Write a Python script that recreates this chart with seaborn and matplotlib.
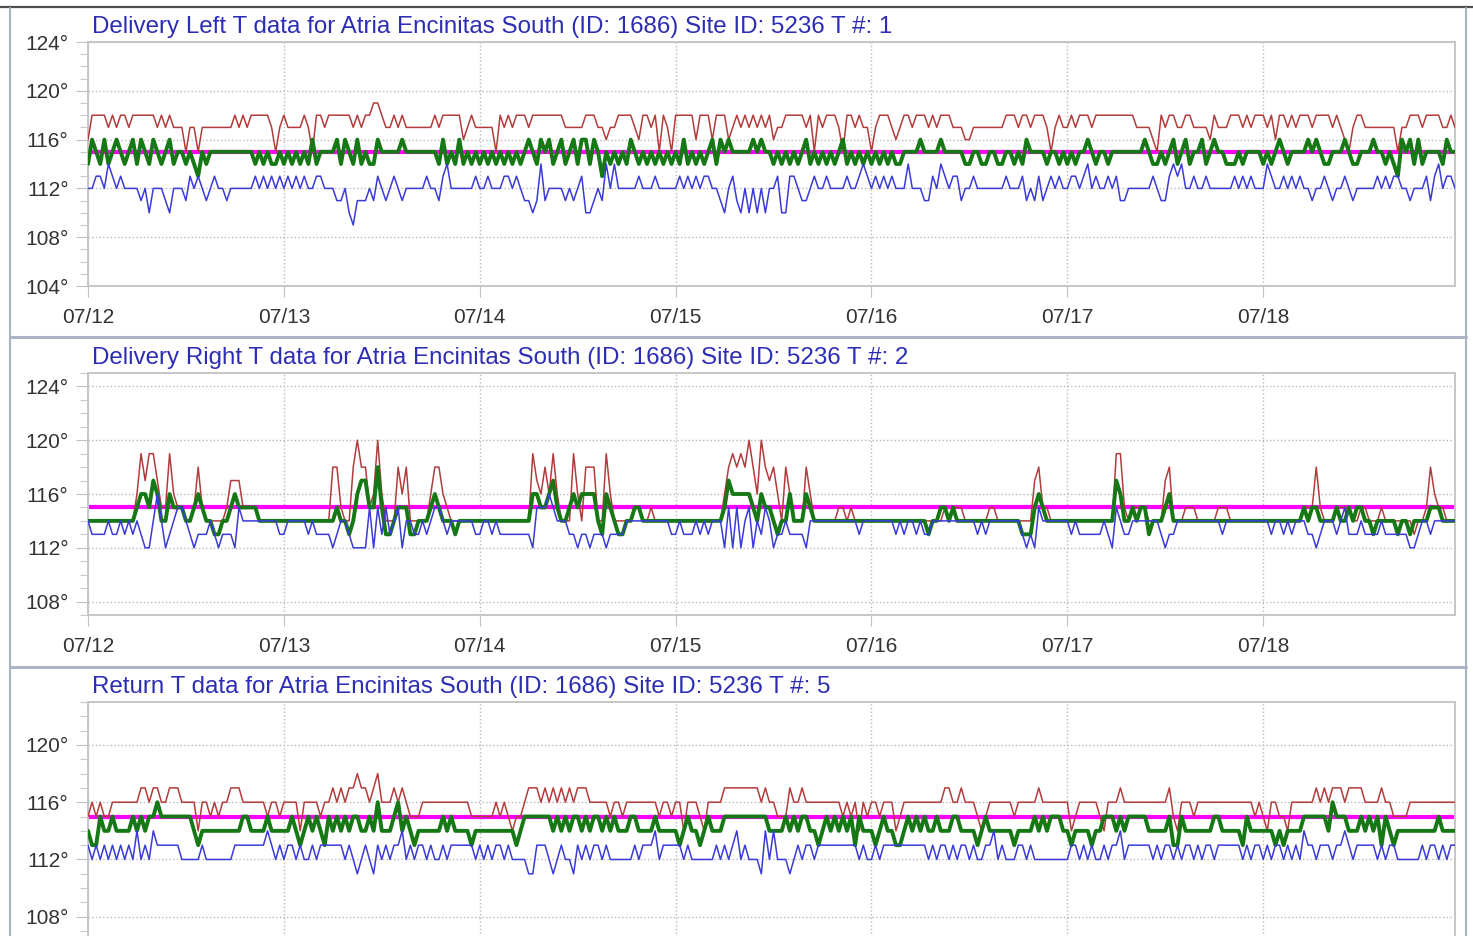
import matplotlib
matplotlib.use("Agg")
import matplotlib.pyplot as plt
import matplotlib.dates as mdates
from matplotlib.lines import Line2D
from matplotlib.ticker import MultipleLocator
import numpy as np
import pandas as pd
import seaborn as sns

# Half-hourly readings, 07/12 00:00 .. 07/18 23:30 (336 points per series).
# One string per day; each digit is the temperature above the series base.
P1_MAX_BASE, P1_AVG_BASE, P1_MIN_BASE = 110, 110, 105
p1_max = [
    "68888787 88788888 87878777 57757777 77778787 88888757",
    "87777875 88788888 87878899 87787877 77777878 88886787",
    "77775878 78887888 88888777 77888776 77888876 88785875",
    "88888688 86888678 78787878 67788888 78587888 75887877",
    "57888767 88788878 78887776 67777777 78887887 88875787",
    "78788878 88888888 87777658 78877887 77768777 88878788",
    "87868878 78887888 87876578 87777777 75778887 88887787",
]
p1_avg = [
    "46546456 54564654 65456455 45435455 55555555 54545445",
    "45454546 45555646 54645446 55555655 55555546 45464545",
    "45454545 45456546 56456456 46646535 45454654 54545454",
    "54645454 56465655 55565655 45454545 64545454 56454545",
    "45454544 55556555 56555554 45544554 45545465 55545545",
    "45455654 55455555 55565445 45645645 56456554 44545555",
    "45456545 55565654 45556544 55565545 43656464 55554655",
]
p1_min = [
    "77887987 87777675 77765777 68787678 77677777 78787878",
    "78787877 88777667 54666768 76787677 77787768 97777778",
    "77877788 78766569 67777676 78556769 79777778 77787777",
    "78787878 87765786 57575757 78558876 67877877 77877898",
    "78787877 79777668 79878867 78777777 78777867 68678787",
    "78878978 77878667 77777876 68989778 77877777 78787877",
    "79877878 78776778 76778767 77778787 88776777 86897887",
]

P2_MAX_BASE, P2_AVG_BASE, P2_MIN_BASE = 111, 110, 110
p2_max = [
    "33333333 33335868 86448544 33474333 33466644 44333333",
    "33333333 33337743 37977459 53337573 33335775 43333333",
    "33333333 33333865 75853338 53777338 53333344 33433333",
    "33333333 33335787 87975976 75375333 75333333 44343333",
    "33333333 33333333 33434443 33333443 33333333 67443333",
    "33333333 33338843 44443333 67333444 33333444 33333333",
    "33333333 33444743 33444433 44333433 33333233 47544333",
]
p2_avg = [
    "44444444 44445665 76446555 44565443 34456555 55444444",
    "44444444 44444544 34677558 53345553 34445654 44344444",
    "44444444 44444665 56754456 56666436 54334455 44444444",
    "44444444 44445766 66654655 43446444 65444444 44444444",
    "44444444 44444434 45545444 44444444 44444333 56544444",
    "44444444 44447644 54553444 56444444 44444444 44444444",
    "44444444 44545544 44544545 54434444 43443444 45554444",
]
p2_min = [
    "43333433 43434322 46423455 43233343 23332544 44444443",
    "34444434 33332344 32222525 35345244 33434554 34444443",
    "34434333 33333255 56544433 23323332 33334444 44444443",
    "34333434 34442525 24524354 23343333 24444444 44444344",
    "44444434 34434334 44444444 44343444 44444323 25444444",
    "43433333 34325433 44444443 23344444 44444434 44444444",
    "44344343 44433234 44345333 43333433 33332234 43444444",
]

P3_MAX_BASE, P3_AVG_BASE, P3_MIN_BASE = 110, 110, 110
p3_max = [
    "56565566 66666776 77667776 66646656 56677766 66665665",
    "66664666 65667676 77877678 66676765 55666666 66666655",
    "55556565 45567776 76767676 77766666 56656666 66665665",
    "66466654 66667777 77777676 65557667 66666666 65656465",
    "66566645 66666666 66776676 66545666 66656666 67666666",
    "64566666 54666766 66666666 67546665 66666666 66666656",
    "54665546 66666767 67776777 76666766 55556666 66666666",
]
p3_avg = [
    "43354454 44454545 56555555 55434444 44444455 44445444",
    "44543454 54354545 45544546 44456454 34444445 45444434",
    "44444444 43455555 55454545 54545545 45444554 44454444",
    "43454434 54445555 55555554 44454545 54434545 45453544",
    "43454433 45454544 54445544 44345444 44434444 54545554",
    "43444434 45554545 55554444 45335444 44445544 44435444",
    "44434344 44555555 46555444 54545354 34444444 44454444",
]
p3_min = [
    "32323232 32324232 43333332 22223222 22223333 33334323",
    "23323223 23333332 32123213 23233423 23323223 23333332",
    "32323323 22221133 32123221 32323323 22222232 33342333",
    "33232222 22323234 23222142 42221232 33233333 33333232",
    "23233333 33333323 23323233 23223342 32223323 22222222",
    "23323232 23233423 33333232 33232332 32332333 33323233",
    "23233232 32433233 32334323 33332323 32222223 23323233",
]

titles = [
    "Delivery Left T data for Atria Encinitas South (ID: 1686) Site ID: 5236 T #: 1",
    "Delivery Right T data for Atria Encinitas South (ID: 1686) Site ID: 5236 T #: 2",
    "Return T data for Atria Encinitas South (ID: 1686) Site ID: 5236 T #: 5",
]
setpoints = [115, 115, 115]
y_limits = [(104, 124), (107, 125), (104, 123)]
y_ticks = [[104, 108, 112, 116, 120, 124], [108, 112, 116, 120, 124], [108, 112, 116, 120]]


def decode(days, base):
    s = "".join(d.replace(" ", "") for d in days)
    vals = [base + int(c) for c in s]
    assert len(vals) == 336, len(vals)
    return vals


times = pd.date_range("2019-07-12", periods=336, freq="30min")
panels = [
    (decode(p1_max, P1_MAX_BASE), decode(p1_avg, P1_AVG_BASE), decode(p1_min, P1_MIN_BASE)),
    (decode(p2_max, P2_MAX_BASE), decode(p2_avg, P2_AVG_BASE), decode(p2_min, P2_MIN_BASE)),
    (decode(p3_max, P3_MAX_BASE), decode(p3_avg, P3_AVG_BASE), decode(p3_min, P3_MIN_BASE)),
]

sns.set_style("white")
plt.rcParams['font.family'] = ['Liberation Sans', 'DejaVu Sans']

W, H = 1473, 936
fig = plt.figure(figsize=(W / 100, H / 100), dpi=100)

# window chrome: dark top rule and grey-blue panel frames
frame_c = '#a9b5c5'
fig.add_artist(Line2D([0, 1], [1 - 7 / H] * 2, color='#4d4d4d', lw=1.6))
for x in (10, 1466):
    fig.add_artist(Line2D([x / W] * 2, [0, 1 - 8 / H], color=frame_c, lw=1.5))
for y in (337, 667):
    fig.add_artist(Line2D([10 / W, 1466 / W], [1 - y / H] * 2, color=frame_c, lw=2.2))

axes_px = [(88, 42, 1455, 286), (88, 373, 1455, 615), (88, 702, 1455, 974)]

for k, (l, t, r, b) in enumerate(axes_px):
    ax = fig.add_axes([l / W, 1 - b / H, (r - l) / W, (b - t) / H])
    hi, avg, lo = panels[k]
    df = pd.DataFrame({"time": times, "max": hi, "avg": avg, "min": lo})

    ax.axhline(setpoints[k], color='#ff00ff', lw=3.0, zorder=2)
    sns.lineplot(data=df, x="time", y="max", ax=ax, color='#b23c3c', lw=1.1, zorder=3)
    sns.lineplot(data=df, x="time", y="avg", ax=ax, color='#157815', lw=2.8, zorder=4)
    sns.lineplot(data=df, x="time", y="min", ax=ax, color='#3a3ad8', lw=1.1, zorder=5)
    ax.set(xlabel='', ylabel='')

    ax.set_xlim(times[0], times[-1])
    ax.set_ylim(*y_limits[k])
    ax.set_yticks(y_ticks[k])
    ax.set_yticklabels([f"{v}\u00b0" for v in y_ticks[k]])
    ax.yaxis.set_minor_locator(MultipleLocator(1))
    ax.xaxis.set_major_locator(mdates.DayLocator())
    ax.xaxis.set_major_formatter(mdates.DateFormatter('%m/%d'))

    ax.grid(True, which='major', linestyle=':', color='#b8b8b8', lw=1.0)
    ax.set_axisbelow(True)
    for sp in ax.spines.values():
        sp.set_color('#c6c6c6')
        sp.set_linewidth(1.4)

    ax.tick_params(axis='both', which='major', left=True, bottom=True,
                   color='#c0c0c0', width=0.8, labelsize=15, labelcolor='#333333')
    ax.tick_params(axis='y', which='major', length=9, pad=5)
    ax.tick_params(axis='y', which='minor', left=True, length=6, width=0.8, color='#c8c8c8')
    ax.tick_params(axis='x', which='major', length=8, pad=8)
    if k == 2:
        # the bottom panel's date row sits below the visible window
        ax.tick_params(axis='x', labelbottom=False)

    ax.annotate(titles[k], xy=(0, 1), xycoords='axes fraction', xytext=(3, 11),
                textcoords='offset points', ha='left', va='center',
                fontsize=17.4, color='#2d2db4')

fig.savefig("out.png", dpi=100)
